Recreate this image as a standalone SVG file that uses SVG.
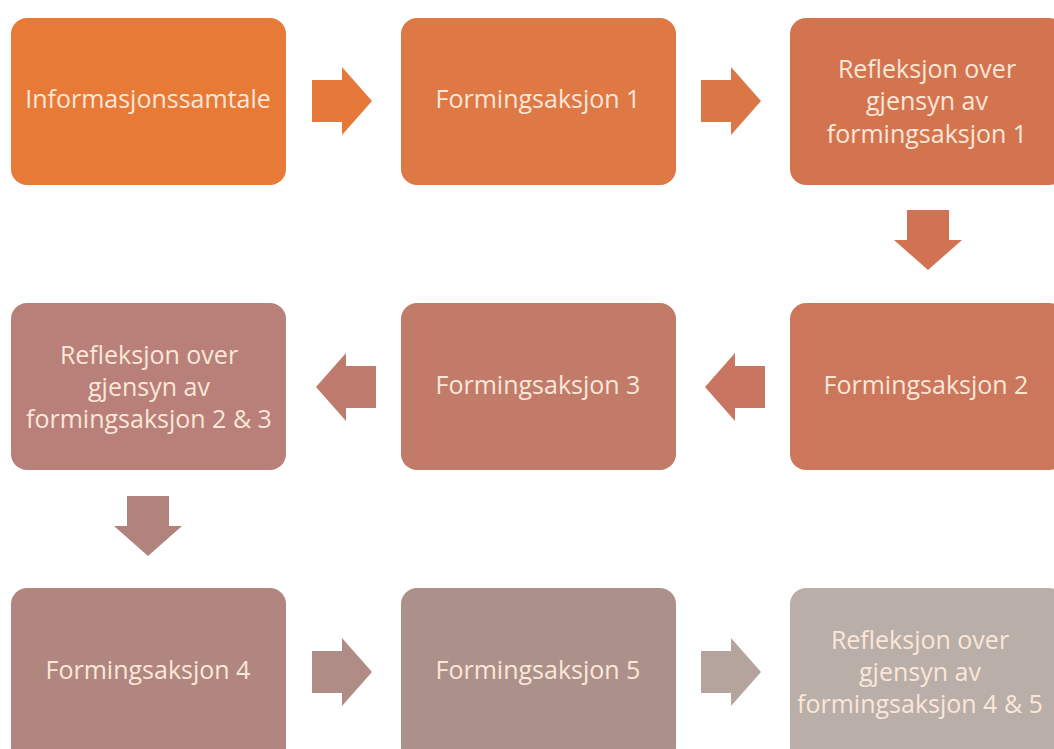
<svg xmlns="http://www.w3.org/2000/svg" width="1054" height="749" viewBox="0 0 1054 749">
<style>
.t{font-family:"Open Sans","Liberation Sans",sans-serif;font-size:25px;fill:#FBE7D9;text-anchor:middle}
</style>
<defs>
<path id="ar" d="M0,-21 H30 V-34 L60,0 L30,34 V21 H0 Z"/>
</defs>
<rect width="1054" height="749" fill="#ffffff"/>
<g id="connectors">
<use href="#ar" transform="translate(312,101)" fill="#E6793A"/>
<use href="#ar" transform="translate(701,101)" fill="#DB7747"/>
<use href="#ar" transform="translate(928,210) rotate(90)" fill="#D17352"/>
<use href="#ar" transform="translate(765,387) rotate(180)" fill="#C87562"/>
<use href="#ar" transform="translate(376,387) rotate(180)" fill="#BE7B6D"/>
<use href="#ar" transform="translate(148,496) rotate(90)" fill="#B2827C"/>
<use href="#ar" transform="translate(312,672)" fill="#AF8C85"/>
<use href="#ar" transform="translate(701,672)" fill="#B4A49D"/>
</g>
<g id="n1"><rect x="11" y="18" width="275" height="167" rx="16" fill="#E87A37"/><text class="t" x="148" y="108">Informasjonssamtale</text></g>
<g id="n2"><rect x="401" y="18" width="275" height="167" rx="16" fill="#DE7845"/><text class="t" x="538" y="108">Formingsaksjon 1</text></g>
<g id="n3"><rect x="790" y="18" width="275" height="167" rx="16" fill="#D4744F"/><text class="t" x="927" y="78">Refleksjon over</text><text class="t" x="927" y="110">gjensyn av</text><text class="t" x="927" y="143">formingsaksjon 1</text></g>
<g id="n4"><rect x="790" y="303" width="275" height="167" rx="16" fill="#CC765B"/><text class="t" x="926" y="394">Formingsaksjon 2</text></g>
<g id="n5"><rect x="401" y="303" width="275" height="167" rx="16" fill="#C27B69"/><text class="t" x="538" y="394">Formingsaksjon 3</text></g>
<g id="n6"><rect x="11" y="303" width="275" height="167" rx="16" fill="#B88078"/><text class="t" x="149" y="364">Refleksjon over</text><text class="t" x="149" y="396">gjensyn av</text><text class="t" x="149" y="428">formingsaksjon 2 &amp; 3</text></g>
<g id="n7"><rect x="11" y="588" width="275" height="175" rx="16" fill="#B0867F"/><text class="t" x="148" y="679">Formingsaksjon 4</text></g>
<g id="n8"><rect x="401" y="588" width="275" height="175" rx="16" fill="#AB918A"/><text class="t" x="538" y="679">Formingsaksjon 5</text></g>
<g id="n9"><rect x="790" y="588" width="275" height="175" rx="16" fill="#B9AEA8"/><text class="t" x="920" y="649">Refleksjon over</text><text class="t" x="920" y="681">gjensyn av</text><text class="t" x="920" y="713">formingsaksjon 4 &amp; 5</text></g>
</svg>
